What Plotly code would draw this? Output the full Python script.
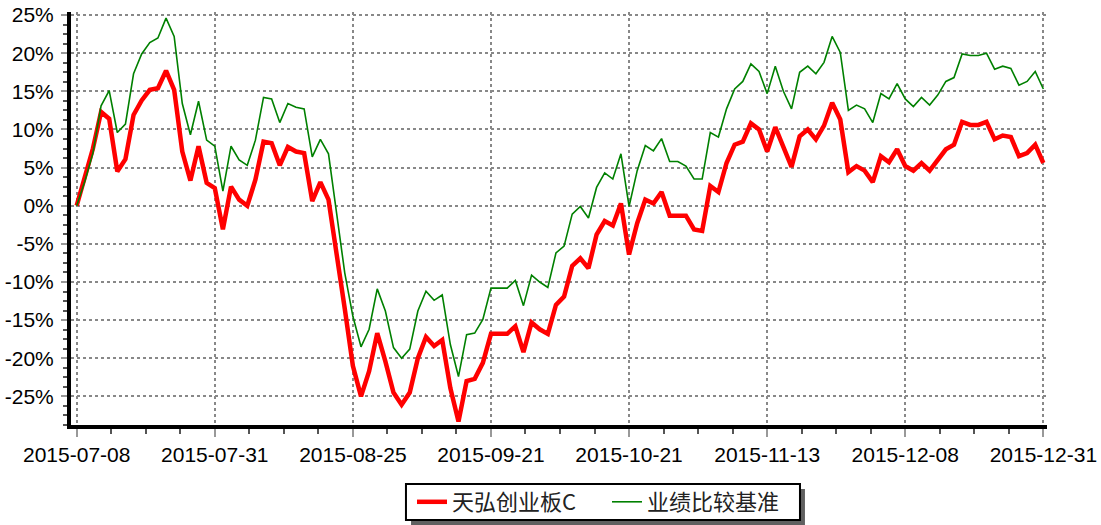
import pandas as pd
import plotly.graph_objects as go

# Trading days 2015-07-08 .. 2015-12-31 (China A-share calendar)
holidays = ["2015-09-03", "2015-09-04", "2015-10-01", "2015-10-02",
            "2015-10-05", "2015-10-06", "2015-10-07"]
dates = [d.strftime("%Y-%m-%d") for d in pd.bdate_range("2015-07-08", "2015-12-31")
         if d.strftime("%Y-%m-%d") not in holidays]

fund_name = "天弘创业板C"
bench_name = "业绩比较基准"

fund = [0, 3.5, 7.5, 12.3, 11.4, 4.5, 6.1, 11.9, 13.8, 15.2,
        15.4, 17.7, 15.2, 7.1, 3.3, 7.8, 3.0, 2.3, -3.1, 2.5,
        0.8, 0.0, 3.4, 8.4, 8.2, 5.3, 7.7, 7.1, 6.9, 0.6,
        3.1, 0.8, -6.0, -13.5, -21.0, -25.0, -21.7, -16.7, -20.4, -24.5,
        -26.1, -24.5, -20.0, -17.2, -18.4, -17.6, -23.9, -28.3, -23.0, -22.7,
        -20.6, -16.8, -16.8, -16.8, -15.8, -19.2, -15.3, -16.2, -16.8, -13.0,
        -11.9, -7.9, -6.9, -8.2, -3.8, -2.0, -2.6, 0.3, -6.4, -2.3,
        0.8, 0.3, 1.8, -1.3, -1.3, -1.3, -3.1, -3.3, 2.6, 1.8,
        5.6, 8.0, 8.4, 10.8, 10.0, 7.1, 10.3, 7.6, 5.1, 9.1,
        10.0, 8.7, 10.5, 13.5, 11.3, 4.4, 5.2, 4.6, 3.1, 6.5,
        5.7, 7.4, 5.2, 4.6, 5.6, 4.6, 5.9, 7.4, 8.0, 11.0,
        10.6, 10.6, 11.0, 8.7, 9.2, 9.0, 6.5, 6.9, 8.0, 5.6]

bench = [0, 3.2, 6.9, 13.1, 15.1, 9.6, 10.7, 17.3, 19.9, 21.4,
         22.0, 24.6, 22.2, 13.4, 9.3, 13.7, 8.6, 7.8, 1.9, 7.8,
         6.0, 5.3, 8.6, 14.2, 14.0, 10.9, 13.4, 12.9, 12.7, 6.4,
         8.7, 6.8, -1.0, -8.8, -14.5, -18.5, -16.2, -10.9, -13.8, -18.6,
         -20.0, -18.8, -13.8, -11.2, -12.4, -11.7, -18.2, -22.4, -16.9, -16.7,
         -14.9, -10.8, -10.8, -10.8, -9.8, -13.1, -9.1, -10.0, -10.7, -6.2,
         -5.3, -1.1, -0.1, -1.6, 2.4, 4.3, 3.5, 6.8, -0.1, 4.6,
         7.9, 7.2, 8.8, 5.8, 5.8, 5.2, 3.5, 3.5, 9.6, 9.0,
         12.7, 15.3, 16.3, 18.6, 17.6, 14.7, 18.3, 15.0, 12.7, 17.5,
         18.3, 17.3, 18.8, 22.2, 20.1, 12.5, 13.2, 12.7, 10.9, 14.7,
         14.0, 16.0, 14.0, 13.0, 14.2, 13.2, 14.5, 16.3, 16.8, 19.9,
         19.7, 19.7, 20.0, 17.9, 18.3, 18.0, 15.8, 16.3, 17.6, 15.3]

tick_dates = ["2015-07-08", "2015-07-31", "2015-08-25", "2015-09-21",
              "2015-10-21", "2015-11-13", "2015-12-08", "2015-12-31"]
y_ticks = [-25, -20, -15, -10, -5, 0, 5, 10, 15, 20, 25]
y_labels = [f"{v}%" for v in y_ticks]

idx = list(range(len(dates)))
tick_idx = [dates.index(d) for d in tick_dates]

fig = go.Figure()
fig.add_trace(go.Scatter(x=idx, y=fund, name=fund_name, mode="lines",
                         customdata=dates, hovertemplate="%{customdata}: %{y:.1f}%",
                         line=dict(color="#FF0000", width=4.5)))
fig.add_trace(go.Scatter(x=idx, y=bench, name=bench_name, mode="lines",
                         customdata=dates, hovertemplate="%{customdata}: %{y:.1f}%",
                         line=dict(color="#008000", width=1.6)))

font_family = "Liberation Sans, Arial, sans-serif"

fig.update_layout(
    width=1101, height=525,
    margin=dict(l=71, r=54, t=12, b=100, autoexpand=False),
    paper_bgcolor="white", plot_bgcolor="white",
    showlegend=True,
    font=dict(family=font_family, size=21, color="black"),
    legend=dict(orientation="h", x=0.3494, xanchor="left", y=-0.1356, yanchor="top",
                bgcolor="rgba(0,0,0,0)", borderwidth=0,
                font=dict(family="Noto Sans CJK SC, Liberation Sans, sans-serif",
                          size=22, color="#222222"),
                itemwidth=30, entrywidth=150, entrywidthmode="pixels"),
)

fig.update_xaxes(
    range=[-0.7, 119.45], showline=True, linecolor="black", linewidth=4,
    tickmode="array", tickvals=tick_idx, ticktext=tick_dates,
    ticks="outside", ticklen=8, tickwidth=2, tickcolor="#999999",
    showgrid=True, gridcolor="#888888", griddash="dot", gridwidth=2,
    zeroline=False, tickfont=dict(size=21), automargin=False,
    minor=dict(tickmode="linear", tick0=0, dtick=4.25, ticks="outside",
               ticklen=5, tickwidth=2, tickcolor="#555555", showgrid=False),
)
fig.update_yaxes(
    range=[-28.75, 25.4], showline=True, linecolor="black", linewidth=4,
    tickmode="array", tickvals=y_ticks, ticktext=y_labels,
    ticks="outside", ticklen=6, tickwidth=2, tickcolor="#999999",
    showgrid=True, gridcolor="#888888", griddash="dot", gridwidth=2,
    zeroline=False, tickfont=dict(size=21), ticklabelstandoff=3, automargin=False,
    minor=dict(tickmode="linear", tick0=0, dtick=1.25, ticks="outside",
               ticklen=4, tickwidth=2, tickcolor="#555555", showgrid=False),
)

# legend frame with drop shadow
fig.add_shape(type="rect", xref="paper", yref="paper",
              x0=0.3484, x1=0.7520, y0=-0.2421, y1=-0.1550,
              fillcolor="#606060", line=dict(width=0), layer="below")
fig.add_shape(type="rect", xref="paper", yref="paper",
              x0=0.3432, x1=0.7469, y0=-0.2300, y1=-0.1429,
              fillcolor="white", line=dict(color="black", width=2), layer="below")

fig.write_html("out.html", config={"displayModeBar": False},
               post_script="document.body.style.margin='0';document.body.style.overflow='hidden';")
